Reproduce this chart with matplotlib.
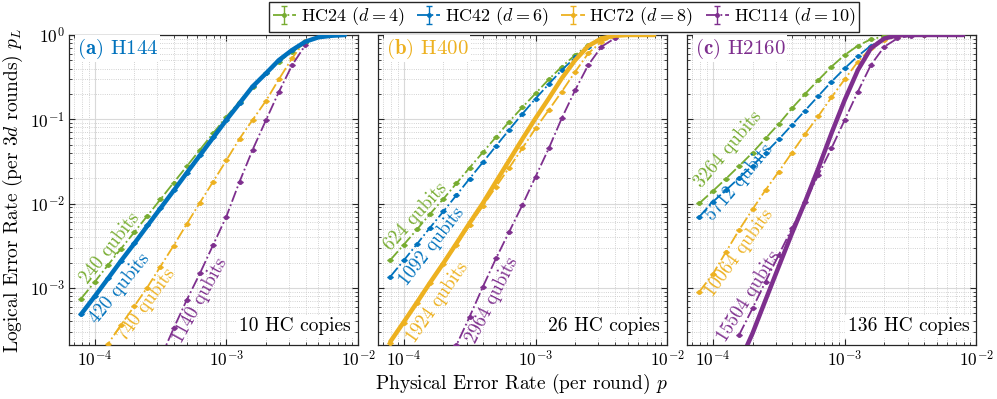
import numpy as np
import matplotlib.pyplot as plt
from matplotlib.ticker import LogLocator, NullFormatter

plt.rcParams['font.family'] = 'serif'
plt.rcParams['font.serif'] = ['cmr10']
plt.rcParams['mathtext.fontset'] = 'cm'
plt.rcParams['axes.formatter.use_mathtext'] = True

# couleurs MATLAB
GREEN = '#77AC30'
BLUE = '#0072BD'
YELLOW = '#EDB120'
PURPLE = '#7E2F8E'

# taux d'erreur physique (commun aux trois panneaux)
p_grid = [7.9e-5, 1.0e-4, 1.26e-4, 1.58e-4, 2.0e-4, 2.51e-4, 3.16e-4, 3.98e-4,
          5.01e-4, 6.31e-4, 7.94e-4, 1.0e-3, 1.26e-3, 1.58e-3, 2.0e-3, 2.51e-3,
          3.16e-3, 3.98e-3, 5.01e-3, 6.31e-3, 7.94e-3]
nan = np.nan

hc_names = ['HC24 ($d=4$)', 'HC42 ($d=6$)', 'HC72 ($d=8$)', 'HC114 ($d=10$)']
hc_colors = [GREEN, BLUE, YELLOW, PURPLE]

# (a) H144, 10 copies
a_hc24 = [7.45e-4, 1.17e-3, 1.85e-3, 2.89e-3, 4.56e-3, 7.13e-3, 1.12e-2, 1.77e-2, 2.77e-2,
          4.36e-2, 6.82e-2, 0.107, 0.162, 0.244, 0.351, 0.483, 0.634, 0.80]
a_hc42 = [4.9e-4, 8.0e-4, 1.3e-3, 2.1e-3, 3.4e-3, 5.5e-3, 8.9e-3, 1.44e-2, 2.33e-2,
          3.77e-2, 6.1e-2, 9.9e-2, 0.156, 0.245, 0.352, 0.50, 0.66, 0.83]
a_hc72 = [7.6e-5, 1.27e-4, 2.14e-4, 3.6e-4, 6.04e-4, 1.01e-3, 1.79e-3, 3.17e-3, 5.73e-3,
          1.03e-2, 1.82e-2, 3.26e-2, 5.89e-2, 9.8e-2, 0.166, 0.30, 0.533, 0.857]
a_hc114 = [nan, nan, nan, nan, nan, nan, 1.46e-4, 3.3e-4, 7.2e-4, 1.49e-3, 3.23e-3, 7.0e-3,
           1.82e-2, 4.32e-2, 0.098, 0.213, 0.44, 0.76]
a_h144 = [4.86e-4, 7.87e-4, 1.28e-3, 2.07e-3, 3.35e-3, 5.42e-3, 8.79e-3, 1.42e-2, 2.31e-2,
          3.74e-2, 6.05e-2, 0.098, 0.155, 0.244, 0.351, 0.505, 0.664, 0.834, 0.94, 0.98, 1.0]
a_qubits = ['240 qubits', '420 qubits', '740 qubits', '1140 qubits']

# (b) H400, 26 copies
b_hc24 = [2.14e-3, 3.26e-3, 4.95e-3, 7.53e-3, 1.14e-2, 1.74e-2, 2.67e-2, 4.06e-2, 6.17e-2,
          9.4e-2, 0.139, 0.203, 0.298, 0.421, 0.579, 0.76, 0.91, 0.97]
b_hc42 = [1.36e-3, 2.12e-3, 3.32e-3, 5.18e-3, 8.1e-3, 1.26e-2, 1.98e-2, 3.09e-2, 4.82e-2,
          7.53e-2, 0.116, 0.176, 0.262, 0.384, 0.543, 0.73, 0.90, 0.97]
b_hc72 = [2.24e-4, 3.87e-4, 6.68e-4, 1.13e-3, 1.92e-3, 3.23e-3, 5.57e-3, 9.37e-3, 1.59e-2,
          2.67e-2, 4.53e-2, 7.81e-2, 0.129, 0.213, 0.367, 0.606, 0.834, 0.955]
b_hc114 = [nan, nan, nan, nan, 9.7e-5, 2.1e-4, 4.56e-4, 1.03e-3, 2.24e-3, 4.65e-3, 9.62e-3,
           2.09e-2, 4.53e-2, 0.103, 0.223, 0.44, 0.727, 0.91]
b_h400 = [2.30e-4, 3.94e-4, 6.74e-4, 1.15e-3, 1.97e-3, 3.38e-3, 5.89e-3, 1.01e-2, 1.82e-2,
          3.26e-2, 5.84e-2, 0.103, 0.177, 0.306, 0.505, 0.74, 0.91, 0.98, 1.0, 1.0, 1.0]
b_qubits = ['624 qubits', '1092 qubits', '1924 qubits', '2964 qubits']

# (c) H2160, 136 copies
c_hc24 = [1.01e-2, 1.41e-2, 1.98e-2, 2.79e-2, 4.02e-2, 5.94e-2, 8.8e-2, 0.135, 0.20,
          0.292, 0.421, 0.579, 0.747, 0.889, 0.964, 0.99, 1.0, 1.0]
c_hc42 = [7.0e-3, 1.05e-2, 1.45e-2, 2.01e-2, 2.82e-2, 4.02e-2, 5.78e-2, 8.56e-2, 0.127,
          0.189, 0.279, 0.402, 0.563, 0.747, 0.897, 0.973, 0.99, 1.0]
c_hc72 = [9.02e-4, 1.46e-3, 2.69e-3, 4.86e-3, 8.55e-3, 1.45e-2, 2.39e-2, 4.02e-2, 6.7e-2,
          0.109, 0.182, 0.298, 0.483, 0.695, 0.873, 0.955, 0.99, 1.0]
c_hc114 = [nan, nan, nan, 2.76e-4, 5.72e-4, 1.19e-3, 2.46e-3, 5.09e-3, 1.05e-2, 2.18e-2,
           4.53e-2, 0.098, 0.213, 0.44, 0.727, 0.91, 0.98, 1.0]
c_h2160 = [nan, nan, nan, 1.27e-4, 2.89e-4, 7.18e-4, 1.79e-3, 4.44e-3, 1.05e-2, 2.62e-2,
           6.82e-2, 0.169, 0.384, 0.695, 0.91, 0.99, 1.0, 1.0, 1.0, 1.0, 1.0]
c_qubits = ['3264 qubits', '5712 qubits', '10064 qubits', '15504 qubits']

panels = [
    ('(a)', 'H144', BLUE, '10 HC copies', [a_hc24, a_hc42, a_hc72, a_hc114], a_h144, a_qubits),
    ('(b)', 'H400', YELLOW, '26 HC copies', [b_hc24, b_hc42, b_hc72, b_hc114], b_h400, b_qubits),
    ('(c)', 'H2160', PURPLE, '136 HC copies', [c_hc24, c_hc42, c_hc72, c_hc114], c_h2160, c_qubits),
]

# position (p, pL) et angle des etiquettes "qubits"
label_spots = [
    [(1.30e-4, 2.95e-3, 52), (1.55e-4, 9.9e-4, 51), (2.5e-4, 6.3e-4, 54), (6.3e-4, 7.2e-4, 61)],
    [(1.24e-4, 7.1e-3, 48), (1.64e-4, 3.08e-3, 52), (1.79e-4, 6.7e-4, 55), (4.68e-4, 7.2e-4, 63)],
    [(1.30e-4, 4.41e-2, 50), (1.59e-4, 1.82e-2, 50), (1.59e-4, 2.57e-3, 54), (1.86e-4, 8.0e-4, 58)],
]

fig = plt.figure(figsize=(9.97, 3.99), dpi=100)
lefts = [0.0692, 0.3794, 0.6894]
handles = []

for i, (tag, name, col, copies, hcs, thick, qlabels) in enumerate(panels):
    ax = fig.add_axes([lefts[i], 0.1353, 0.290, 0.777])
    for j, y in enumerate(hcs):
        x = p_grid[:len(y)]
        eb = ax.errorbar(x, y, yerr=np.zeros(len(y)), fmt='-.', color=hc_colors[j],
                         lw=1.3, marker='.', ms=5, capsize=2, elinewidth=1.0, zorder=3)
        if i == 0:
            handles.append(eb)
    ax.plot(p_grid[:len(thick)], thick, '-', color=col, lw=3.2, zorder=4,
            solid_capstyle='round')

    for j, (px, py, rot) in enumerate(label_spots[i]):
        ax.text(px, py, qlabels[j], color=hc_colors[j], fontsize=13.5, rotation=rot,
                rotation_mode='anchor', ha='center', va='center', zorder=5)

    ax.text(0.026, 0.955, r'$\mathbf{' + tag + '}$ ' + name, transform=ax.transAxes,
            color=col, fontsize=15, ha='left', va='center', zorder=6,
            bbox=dict(facecolor='white', edgecolor='none', pad=1.0))
    ax.text(0.975, 0.06, copies, transform=ax.transAxes, fontsize=14,
            ha='right', va='center', zorder=6,
            bbox=dict(facecolor='white', edgecolor='none', pad=1.5))

    ax.set_xscale('log')
    ax.set_yscale('log')
    ax.set_xlim(6.4e-5, 1e-2)
    ax.set_ylim(2.1e-4, 1)
    ax.xaxis.set_major_locator(LogLocator(base=10, numticks=10))
    ax.xaxis.set_minor_locator(LogLocator(base=10, subs=np.arange(2, 10), numticks=20))
    ax.yaxis.set_minor_locator(LogLocator(base=10, subs=np.arange(2, 10), numticks=20))
    ax.xaxis.set_minor_formatter(NullFormatter())
    ax.yaxis.set_minor_formatter(NullFormatter())
    ax.grid(True, which='major', color='#d9d9d9', lw=0.8, ls='-')
    ax.grid(True, which='minor', color='#c4c4c4', lw=0.6, ls=':')
    ax.set_axisbelow(True)
    ax.tick_params(which='both', direction='in', top=True, right=True,
                   labelsize=12.5, color='#262626')
    ax.tick_params(which='major', length=4, pad=3)
    ax.tick_params(which='minor', length=2)
    for s in ax.spines.values():
        s.set_color('#262626')
        s.set_linewidth(0.9)
    if i > 0:
        ax.set_yticklabels([])

fig.text(521 / 997, 0.038, 'Physical Error Rate (per round) $p$', ha='center', va='center',
         fontsize=14)
fig.text(0.013, 0.524, 'Logical Error Rate (per 3$d$ rounds) $p_L$', rotation=90,
         ha='center', va='center', fontsize=14)

fig.legend(handles, hc_names, loc='upper center', bbox_to_anchor=(564 / 997, 0.995), ncol=4,
           fontsize=13, frameon=True, fancybox=False, edgecolor='#262626', framealpha=1,
           handlelength=1.3, handletextpad=0.25, columnspacing=0.7, borderpad=0.2,
           borderaxespad=0)

fig.savefig('out.png', dpi=100)
